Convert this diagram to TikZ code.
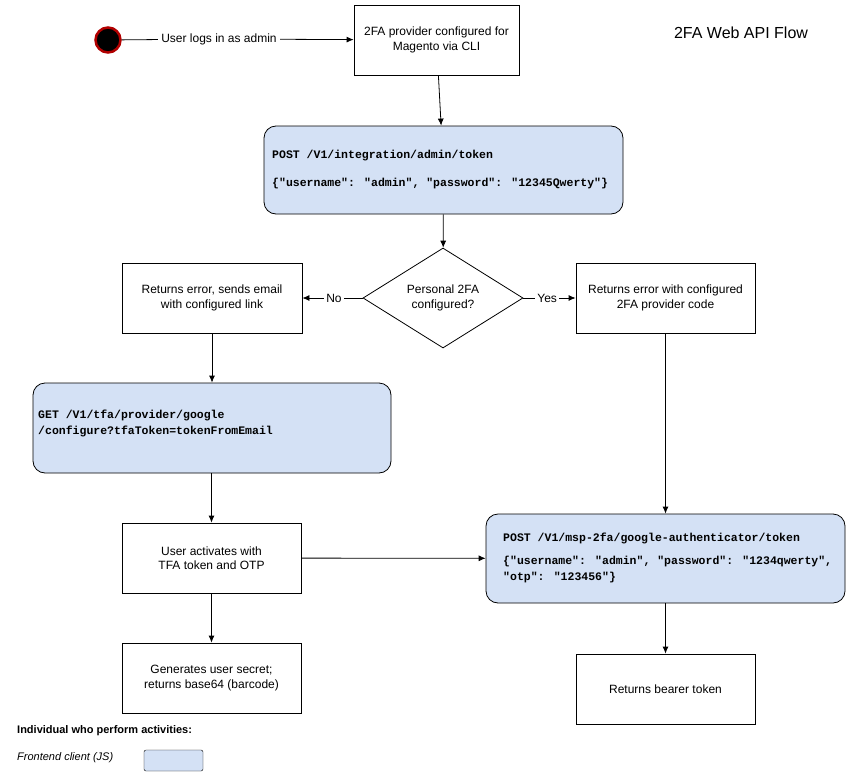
\documentclass[tikz,border=0pt]{standalone}
\usepackage{fontspec}
\setmainfont{Liberation Sans}
\newfontfamily\monof{Liberation Mono}
\usetikzlibrary{shapes.geometric,arrows.meta}
\definecolor{fillb}{HTML}{D4E1F5}
\begin{document}
\begin{tikzpicture}[x=1pt,y=-1pt,
  every node/.style={font=\fontsize{12}{14.5}\selectfont},
  box/.style={draw,thick,minimum width=180pt,minimum height=70pt,align=center,inner sep=0},
  rbox/.style={draw,thick,fill=fillb,rounded corners=12pt,inner sep=0},
  mono/.style={font=\monof\bfseries\fontsize{11.5}{16}\selectfont,anchor=west,align=left,inner sep=0},
  arr/.style={-{Latex[length=7pt,width=6pt]},thick}]
\useasboundingbox (0,0) rectangle (853,773);
\node[circle,draw=red!70!black,fill=black,line width=2.5pt,minimum size=25pt] (st) at (108,40) {};
\node (ul) at (219,39) {User logs in as admin};
\node[box,minimum width=165pt] (b1) at (436.5,40) {2FA provider configured for\\Magento via CLI};
\draw[thick] (st) -- (ul);
\draw[arr] (ul) -- (b1);
\node[font=\fontsize{16}{18}\selectfont] (t) at (741,33) {2FA Web API Flow};
\node[rbox,minimum width=359pt,minimum height=88pt] (r1) at (443.5,170) {};
\node[mono] (r1t) at (272,170) {POST /V1/integration/admin/token\\[12pt]\{"username": "admin", "password": "12345Qwerty"\}};
\draw[arr] (b1) -- (r1);
\node[diamond,draw,thick,minimum width=160pt,minimum height=100pt,inner sep=0,align=center] (d) at (443,298) {Personal 2FA\\configured?};
\draw[arr] (r1) -- (d);
\node[box] (bl) at (212,298) {Returns error, sends email\\with configured link};
\node[box,minimum width=179pt] (br) at (665.5,298) {Returns error with configured\\2FA provider code};
\draw[thick] (d.west) -- (344,298) node[pos=1,anchor=east,inner sep=2pt] (no) {No};
\draw[arr] (no) -- (bl);
\draw[thick] (d.east) -- (535,298) node[pos=1,anchor=west,inner sep=2pt] (yes) {Yes};
\draw[arr] (yes) -- (br);
\node[rbox,minimum width=358pt,minimum height=90pt] (r2) at (212,428) {};
\node[mono] (r2t) at (38,423) {GET /V1/tfa/provider/google\\/configure?tfaToken=tokenFromEmail};
\draw[arr] (bl) -- (r2);
\node[box,minimum width=179pt] (ua) at (211.5,558) {User activates with\\TFA token and OTP};
\draw[arr] (r2.south -| ua) -- (ua);
\node[rbox,minimum width=359pt,minimum height=89pt] (r3) at (665.5,558.5) {};
\node[mono] (r3t) at (503,558) {POST /V1/msp-2fa/google-authenticator/token\\[7pt]\{"username": "admin", "password": "1234qwerty",\\"otp": "123456"\}};
\draw[arr] (ua) -- (r3);
\draw[arr] (br) -- (r3.north -| br);
\node[box,minimum width=179pt] (bt) at (665.5,689) {Returns bearer token};
\draw[arr] (r3) -- (bt);
\node[box,minimum width=179pt] (gs) at (211.5,678) {Generates user secret;\\returns base64 (barcode)};
\draw[arr] (ua) -- (gs);
\node[anchor=west,font=\bfseries\fontsize{11}{13}\selectfont,inner sep=0] (lg) at (17,731) {Individual who perform activities:};
\node[anchor=west,font=\itshape\fontsize{11}{13}\selectfont,inner sep=0] (fc) at (17,758) {Frontend client (JS)};
\node[draw,fill=fillb,rounded corners=2pt,minimum width=59pt,minimum height=21pt,inner sep=0] (lb) at (173.5,760.5) {};
\end{tikzpicture}
\end{document}
